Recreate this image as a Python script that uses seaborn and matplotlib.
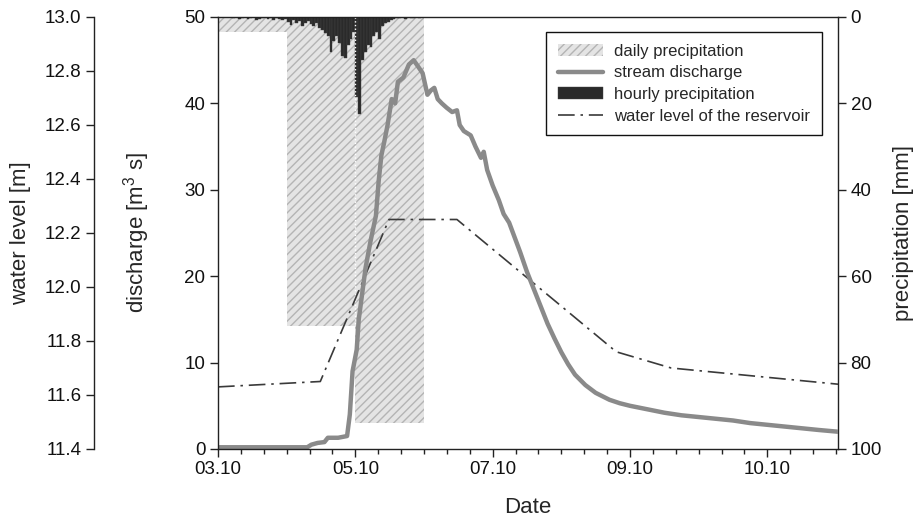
import numpy as np
import pandas as pd
import matplotlib
matplotlib.use('Agg')
import matplotlib.pyplot as plt
from matplotlib.ticker import MultipleLocator, FormatStrFormatter
import seaborn as sns

# daily precipitation [mm], one bar per day starting 03.10
daily_days = [0, 1, 2]
daily_precip = [3.5, 71.5, 94.0]

# hourly precipitation [mm], first value is hour 5 after 03.10 00:00
hourly_start = 5
hourly_precip = [0.3, 0, 0.4, 0.2, 0, 0.5, 0.3, 0, 0.6, 0.4, 0.2, 0, 0.5, 0.3, 0.6, 0.2, 0.4, 0.7, 0.5,
                 1.2, 1.8, 0.8, 1.5, 1.0, 2.0, 1.4, 0.9, 1.6, 2.2, 1.5, 2.5,
                 3.0, 3.8, 4.5, 8.0, 5.5, 4.5, 6.0, 9.0, 9.5, 6.5, 5.0, 3.5,
                 18.5, 22.5, 10.0, 8.0, 6.5, 7.0, 4.5, 3.5, 5.0,
                 2.0, 1.5, 1.2, 0.8, 0.5, 0.3, 0.3, 0, 0.4, 0, 0.2, 0.3, 0, 0.2, 0, 0.1]

# stream discharge [m3/s], time in days from 03.10
q_days = [0.00, 0.60, 1.30, 1.36, 1.45, 1.55, 1.60, 1.75, 1.88, 1.92, 1.96, 2.02, 2.05, 2.10, 2.15,
          2.22, 2.30, 2.34, 2.38, 2.42, 2.47, 2.53, 2.58, 2.62, 2.70, 2.78, 2.85, 2.92, 2.98, 3.05,
          3.10, 3.15, 3.20, 3.26, 3.33, 3.41, 3.48, 3.52, 3.58, 3.68, 3.75, 3.83, 3.87, 3.92, 4.00,
          4.09, 4.16, 4.24, 4.32, 4.40, 4.50, 4.60, 4.70, 4.80, 4.90, 5.00, 5.10, 5.20, 5.35, 5.50,
          5.70, 5.85, 6.00, 6.25, 6.50, 6.75, 7.00, 7.25, 7.50, 7.75, 8.00, 8.25, 8.50, 8.75, 9.03]
q_vals = [0.2, 0.2, 0.2, 0.5, 0.7, 0.8, 1.3, 1.3, 1.5, 4.0, 9.0, 11.5, 15.0, 18.0, 21.0,
          24.0, 27.0, 31.0, 34.0, 35.5, 37.5, 40.5, 40.0, 42.5, 43.0, 44.5, 45.0, 44.2, 43.5, 41.0,
          41.5, 41.8, 40.5, 40.0, 39.5, 39.0, 39.2, 37.5, 36.8, 36.3, 35.0, 33.7, 34.4, 32.3, 30.5,
          28.8, 27.2, 26.2, 24.5, 22.8, 20.5, 18.5, 16.5, 14.5, 12.8, 11.2, 9.8, 8.6, 7.4, 6.5,
          5.7, 5.3, 5.0, 4.6, 4.2, 3.9, 3.7, 3.5, 3.3, 3.0, 2.8, 2.6, 2.4, 2.2, 2.0]

# water level of the reservoir [m]
wl_days = [0, 1.49, 2.49, 3.48, 5.8, 6.6, 9.03]
wl_vals = [11.63, 11.65, 12.25, 12.25, 11.76, 11.70, 11.64]

tick_days = [0, 2, 4, 6, 8]
tick_labels = ['03.10', '05.10', '07.10', '09.10', '10.10']

sns.set_theme(style='ticks')
plt.rcParams['font.family'] = ['Liberation Sans', 'DejaVu Sans']
plt.rcParams['mathtext.fontset'] = 'custom'
plt.rcParams['mathtext.rm'] = 'Liberation Sans'
plt.rcParams['hatch.linewidth'] = 1.0

fig = plt.figure(figsize=(9.19, 5.21), dpi=100)
ax = fig.add_axes([0.2372, 0.1382, 0.6747, 0.8292])
ax_p = ax.twinx()
ax_wl = ax.twinx()

# precipitation behind, discharge on top
ax_p.set_zorder(1)
ax_wl.set_zorder(2)
ax.set_zorder(3)
ax.patch.set_visible(False)

spine_col = '#222222'
tick_fs = 13.5
lab_fs = 16

# precipitation (inverted right axis)
daily = ax_p.bar(daily_days, daily_precip, width=1.0, align='edge', color='#e4e4e4',
                 edgecolor='#b4b4b4', hatch='////', linewidth=0, label='daily precipitation')
hours = (hourly_start + np.arange(len(hourly_precip))) / 24.0
hourly = ax_p.bar(hours, hourly_precip, width=1 / 24.0, align='edge', color='#2a2a2a',
                  edgecolor='#444444', linewidth=0.3, label='hourly precipitation')
# light dotted seam between the 04.10 and 05.10 bars
ax_p.vlines(daily_days[2], 0, daily_precip[1], colors='white', linestyles=':', linewidth=1.0)
ax_p.set_ylim(100, 0)
ax_p.set_yticks([0, 20, 40, 60, 80, 100])
ax_p.set_ylabel('precipitation [mm]', fontsize=lab_fs)
ax_p.yaxis.set_label_coords(1.089, 0.5)

# water level (offset left axis)
df_wl = pd.DataFrame({'day': wl_days, 'level': wl_vals})
sns.lineplot(data=df_wl, x='day', y='level', ax=ax_wl, color='#3a3a3a', linewidth=1.2, legend=False)
wl_line = ax_wl.lines[-1]
wl_line.set_linestyle((0, (10, 3.5, 1.5, 3.5)))
ax_wl.set_ylim(11.4, 13.0)
ax_wl.set_yticks(np.round(np.arange(11.4, 13.01, 0.2), 1))
ax_wl.yaxis.set_major_formatter(FormatStrFormatter('%.1f'))
ax_wl.yaxis.set_ticks_position('left')
ax_wl.yaxis.set_label_position('left')
ax_wl.spines['left'].set_position(('axes', (94 - 218) / 620))
for s in ['right', 'top', 'bottom']:
    ax_wl.spines[s].set_visible(False)
ax_wl.spines['left'].set_visible(True)
ax_wl.set_ylabel('water level [m]', fontsize=lab_fs)
ax_wl.yaxis.set_label_coords(-0.302, 0.5)

# discharge (main axis)
df_q = pd.DataFrame({'day': q_days, 'q': q_vals})
sns.lineplot(data=df_q, x='day', y='q', ax=ax, color='#8a8a8a', linewidth=3.2, legend=False)
q_line = ax.lines[-1]
ax.set_ylim(0, 50)
ax.set_yticks([0, 10, 20, 30, 40, 50])
ax.set_xlim(0, 9.03)
ax.set_xticks(tick_days)
ax.set_xticklabels(tick_labels)
ax.xaxis.set_minor_locator(MultipleLocator(1 / 3))
ax.set_xlabel('Date', fontsize=lab_fs)
ax.xaxis.set_label_coords(0.5, -0.111)
ax.set_ylabel('discharge [m$^3$ s]', fontsize=lab_fs)
ax.yaxis.set_label_coords(-0.106, 0.5)

for a in (ax, ax_p, ax_wl):
    for s in a.spines.values():
        s.set_color(spine_col)
        s.set_linewidth(1.0)
    a.tick_params(axis='both', which='major', labelsize=tick_fs, length=6, width=1.0,
                  color=spine_col, labelcolor='#111111', pad=3)
ax.tick_params(axis='x', which='minor', length=3.5, width=1.0, color=spine_col)
ax.tick_params(axis='x', which='major', length=6)
ax_p.spines['left'].set_visible(False)
ax_p.spines['top'].set_visible(False)
ax_p.spines['bottom'].set_visible(False)
ax.spines['right'].set_visible(False)

leg = ax.legend([daily, q_line, hourly, wl_line],
                ['daily precipitation', 'stream discharge', 'hourly precipitation',
                 'water level of the reservoir'],
                loc='upper right', bbox_to_anchor=(0.974, 0.965), borderaxespad=0,
                fontsize=12, frameon=True, fancybox=False, framealpha=1, edgecolor='#111111',
                handlelength=2.7, handletextpad=0.7, labelspacing=0.4, borderpad=0.7)
leg.get_frame().set_linewidth(1.0)

fig.savefig('out.png', dpi=100)
